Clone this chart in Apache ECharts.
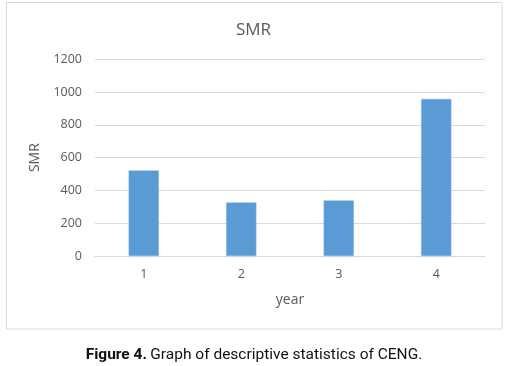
<!DOCTYPE html>
<html>
<head>
<meta charset="utf-8">
<script src="https://cdn.jsdelivr.net/npm/echarts@6/dist/echarts.min.js"></script>
<style>
html,body{margin:0;padding:0;background:#fff;}
#c{width:507px;height:366px;}
</style>
</head>
<body>
<div id="c"></div>
<script>
var categories = ['1', '2', '3', '4'];
var smrValues = [522, 327, 339, 958];
var yTicks = [0, 200, 400, 600, 800, 1000, 1200];

var chart = echarts.init(document.getElementById('c'), null, {renderer: 'canvas'});
var font = '"Open Sans", Lato, sans-serif';
chart.setOption({
  animation: false,
  backgroundColor: '#ffffff',
  title: {
    text: 'SMR',
    left: 'center',
    top: 17,
    textStyle: {fontFamily: font, fontSize: 17, fontWeight: 'normal', color: '#595959'}
  },
  grid: {left: 95, right: 22, top: 59.3, bottom: 110, containLabel: false},
  xAxis: {
    type: 'category',
    data: categories,
    name: 'year',
    nameLocation: 'middle',
    nameGap: 37,
    nameTextStyle: {fontFamily: font, fontSize: 14, color: '#595959'},
    axisLine: {show: true, lineStyle: {color: '#d9d9d9', width: 1}},
    axisTick: {show: false},
    axisLabel: {fontFamily: font, fontSize: 12.5, color: '#595959', margin: 12}
  },
  yAxis: {
    type: 'value',
    min: yTicks[0],
    max: yTicks[yTicks.length - 1],
    interval: 200,
    name: 'SMR',
    nameLocation: 'middle',
    nameGap: 52,
    nameRotate: 90,
    nameTextStyle: {fontFamily: font, fontSize: 14, color: '#595959'},
    axisLine: {show: false},
    axisTick: {show: false},
    axisLabel: {fontFamily: font, fontSize: 12.5, color: '#595959', margin: 13,
      formatter: function (v) { return String(v); }},
    splitLine: {lineStyle: {color: '#d9d9d9', width: 1}}
  },
  series: [{
    type: 'bar',
    data: smrValues,
    barWidth: '31%',
    itemStyle: {color: '#5b9bd5', borderColor: '#7fb1df', borderWidth: 0.5}
  }],
  graphic: [
    {
      type: 'rect',
      shape: {x: 6.5, y: 2.5, width: 495.5, height: 326.5},
      style: {fill: null, stroke: '#d9d9d9', lineWidth: 1},
      silent: true,
      z: -1
    },
    {
      type: 'text',
      x: 254,
      y: 355,
      style: {
        text: '{b|Figure 4.} {n|Graph of descriptive statistics of CENG.}',
        align: 'center',
        verticalAlign: 'middle',
        rich: {
          b: {fontFamily: 'Roboto, sans-serif', fontSize: 15.5, fontWeight: 'bold', fill: '#111'},
          n: {fontFamily: 'Roboto, sans-serif', fontSize: 15.5, fill: '#111'}
        }
      }
    }
  ]
});
</script>
</body>
</html>
